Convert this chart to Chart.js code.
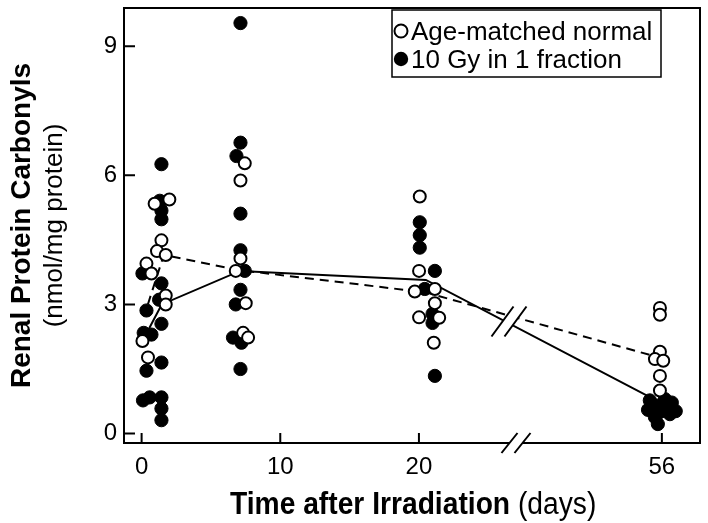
<!DOCTYPE html>
<html><head><meta charset="utf-8">
<script src="https://cdn.jsdelivr.net/npm/chart.js@4/dist/chart.umd.min.js"></script>
<style>html,body{margin:0;padding:0;background:#fff}#wrap{width:708px;height:523px}</style>
</head><body><div id="wrap"><canvas id="c" width="708" height="523"></canvas></div>
<script>
// ---- data ----
// x = day after irradiation (individual animals are jittered around their day), y = nmol/mg protein
const normalX = [0.94,2.0,1.43,1.11,1.74,0.35,0.71,1.74,1.74,0.06,0.46,
  7.44,7.13,7.13,6.79,7.51,7.32,7.68,
  20.06,20.01,19.70,21.15,21.15,20.01,21.46,21.07,
  55.86,55.86,55.86,55.5,56.1,55.86,55.86];
const normalY = [5.34,5.44,4.49,4.24,4.15,3.95,3.72,3.21,3.0,2.15,1.77,
  6.28,5.88,4.07,3.78,3.03,2.34,2.23,
  5.51,3.78,3.30,3.36,3.03,2.70,2.69,2.11,
  2.92,2.76,1.90,1.73,1.69,1.34,1.0];
const irradX = [1.43,1.31,1.43,1.43,0.06,1.43,1.26,0.35,1.43,0.15,0.71,1.43,0.35,0.1,0.58,1.43,1.43,1.43,
  7.13,7.13,6.84,7.13,7.13,7.44,7.13,6.79,6.59,7.2,7.13,
  20.06,20.06,20.06,21.15,20.42,20.98,20.98,21.15,
  55.13,55.64,56.22,56.72,55.0,55.86,56.58,57.0,55.5,55.71,56.14];
const irradY = [6.26,5.41,5.18,4.98,3.72,3.49,3.11,2.86,2.55,2.34,2.30,1.65,1.46,0.77,0.84,0.84,0.58,0.31,
  9.54,6.76,6.45,5.11,4.26,3.78,3.34,3.0,2.23,2.11,1.50,
  4.91,4.61,4.32,3.78,3.36,2.78,2.57,1.34,
  0.77,0.65,0.80,0.72,0.55,0.50,0.45,0.52,0.38,0.22,0.60];
const normalMeanX = [0.45,1.6,7.0,20.5,56];
const normalMeanY = [3.0,4.15,3.8,3.28,1.75];
const irradMeanX = [0.5,1.45,7.1,20.5,56];
const irradMeanY = [2.42,3.0,3.78,3.57,0.7];
const xTickDays = [0,10,20,56];
const yTicks = [0,3,6,9];
const seriesNames = ['Age-matched normal','10 Gy in 1 fraction'];
const xTitleBold = 'Time after Irradiation', xTitleRest = ' (days)';
const yTitleBold = 'Renal Protein Carbonyls', yTitleRest = '(nmol/mg protein)';

// broken x axis: day 56 is drawn right after the break
const BREAK_DAY = 27, LATE_POS = 37.52;
const breakX = d => d >= 40 ? LATE_POS + (d - 56) : d;
const pts = (xs, ys) => xs.map((x, i) => ({x: breakX(x), y: ys[i]}));

const FONT = '"Liberation Sans", Arial, Helvetica, sans-serif';

const framePlugin = {
  id: 'frame',
  afterDraw(chart) {
    const c = chart.ctx, a = chart.chartArea, xs = chart.scales.x, ys = chart.scales.y;
    c.save();
    c.strokeStyle = '#000'; c.lineWidth = 2; c.lineCap = 'butt';
    const bx = xs.getPixelForValue(BREAK_DAY);
    // frame with gap at the break
    c.beginPath();
    c.moveTo(bx - 6.5, a.bottom); c.lineTo(a.left, a.bottom); c.lineTo(a.left, a.top);
    c.lineTo(a.right, a.top); c.lineTo(a.right, a.bottom); c.lineTo(bx + 6.5, a.bottom);
    c.stroke();
    // inward ticks
    c.beginPath();
    yTicks.forEach(v => { const y = ys.getPixelForValue(v); c.moveTo(a.left, y); c.lineTo(a.left + 11, y); });
    xTickDays.forEach(d => { const x = xs.getPixelForValue(breakX(d)); c.moveTo(x, a.bottom); c.lineTo(x, a.bottom - 10); });
    c.stroke();
    // axis break marks
    c.beginPath();
    [-6.5, 6.5].forEach(o => { c.moveTo(bx + o - 8, a.bottom + 10); c.lineTo(bx + o + 8, a.bottom - 10); });
    c.stroke();
    // break on the data lines
    const interp = (mx, my, px) => {
      const x0 = xs.getPixelForValue(breakX(mx[3])), y0 = ys.getPixelForValue(my[3]);
      const x1 = xs.getPixelForValue(breakX(mx[4])), y1 = ys.getPixelForValue(my[4]);
      return y0 + (y1 - y0) * (px - x0) / (x1 - x0);
    };
    const lx = bx - 7;
    const ly = (interp(normalMeanX, normalMeanY, lx) + interp(irradMeanX, irradMeanY, lx)) / 2 + 2;
    const hw = 11, hh = 15, sep = 6.5;
    c.fillStyle = '#fff';
    c.beginPath();
    c.moveTo(lx - sep - hw, ly + hh); c.lineTo(lx - sep + hw, ly - hh);
    c.lineTo(lx + sep + hw, ly - hh); c.lineTo(lx + sep - hw, ly + hh); c.closePath(); c.fill();
    c.beginPath();
    [-sep, sep].forEach(o => { c.moveTo(lx + o - hw, ly + hh); c.lineTo(lx + o + hw, ly - hh); });
    c.stroke();
    // x title (mixed weight)
    c.fillStyle = '#000'; c.textBaseline = 'alphabetic'; c.textAlign = 'left';
    c.save();
    c.translate(230, 514); c.scale(0.91, 1);
    c.font = 'bold 31px ' + FONT; c.fillText(xTitleBold, 0, 0);
    const w = c.measureText(xTitleBold).width;
    c.font = '31px ' + FONT; c.fillText(xTitleRest, w, 0);
    c.restore();
    // y titles
    const cy = (a.top + a.bottom) / 2;
    c.save(); c.translate(30, cy); c.rotate(-Math.PI / 2); c.textAlign = 'center';
    c.font = 'bold 28px ' + FONT; c.fillText(yTitleBold, 0, 0); c.restore();
    c.save(); c.translate(62, cy); c.rotate(-Math.PI / 2); c.textAlign = 'center';
    c.font = '26px ' + FONT; c.fillText(yTitleRest, 0, 0); c.restore();
    // legend
    c.lineWidth = 1.5; c.strokeRect(392, 10, 269, 67);
    c.font = '26px ' + FONT; c.textAlign = 'left';
    const rows = [31, 59];
    c.lineWidth = 2;
    c.beginPath(); c.arc(401, rows[0], 6.5, 0, Math.PI * 2); c.fillStyle = '#fff'; c.fill(); c.stroke();
    c.beginPath(); c.arc(401, rows[1], 7.2, 0, Math.PI * 2); c.fillStyle = '#000'; c.fill();
    c.fillText(seriesNames[0], 411, rows[0] + 9);
    c.fillText(seriesNames[1], 411, rows[1] + 9);
    c.restore();
  }
};

new Chart(document.getElementById('c'), {
  type: 'scatter',
  data: {
    datasets: [
      {label: seriesNames[0], data: pts(normalX, normalY), pointRadius: 6, pointBorderWidth: 2,
       pointBackgroundColor: '#fff', pointBorderColor: '#000', order: 0},
      {label: seriesNames[1], data: pts(irradX, irradY), pointRadius: 6.6, pointBorderWidth: 1,
       pointBackgroundColor: '#000', pointBorderColor: '#000', order: 1},
      {type: 'line', label: 'normal mean', data: pts(normalMeanX, normalMeanY), borderColor: '#000',
       borderWidth: 2, borderDash: [9, 6], pointRadius: 0, fill: false, tension: 0, order: 2},
      {type: 'line', label: 'irradiated mean', data: pts(irradMeanX, irradMeanY), borderColor: '#000',
       borderWidth: 2, pointRadius: 0, fill: false, tension: 0, order: 3}
    ]
  },
  options: {
    responsive: false, animation: false, devicePixelRatio: 1,
    layout: {padding: {top: 4, right: 8, left: 0, bottom: 0}},
    plugins: {legend: {display: false}, tooltip: {enabled: false}},
    scales: {
      x: {type: 'linear', min: -1.27, max: 40.27,
        afterFit(s) { s.height = 80; s.paddingLeft = 0; s.paddingRight = 0; },
        afterBuildTicks(s) { s.ticks = xTickDays.map(d => ({value: breakX(d)})); },
        ticks: {callback: (v, i) => String(xTickDays[i]), color: '#000', font: {family: FONT, size: 24}, padding: 10, maxRotation: 0, autoSkip: false},
        grid: {display: false, drawTicks: false}, border: {display: false}},
      y: {type: 'linear', min: -0.22, max: 9.89,
        afterFit(s) { s.width = 124; s.paddingTop = 0; s.paddingBottom = 0; },
        afterBuildTicks(s) { s.ticks = yTicks.map(v => ({value: v})); },
        ticks: {color: '#000', font: {family: FONT, size: 24}, padding: 7},
        grid: {display: false, drawTicks: false}, border: {display: false}}
    }
  },
  plugins: [framePlugin]
});
</script></body></html>
